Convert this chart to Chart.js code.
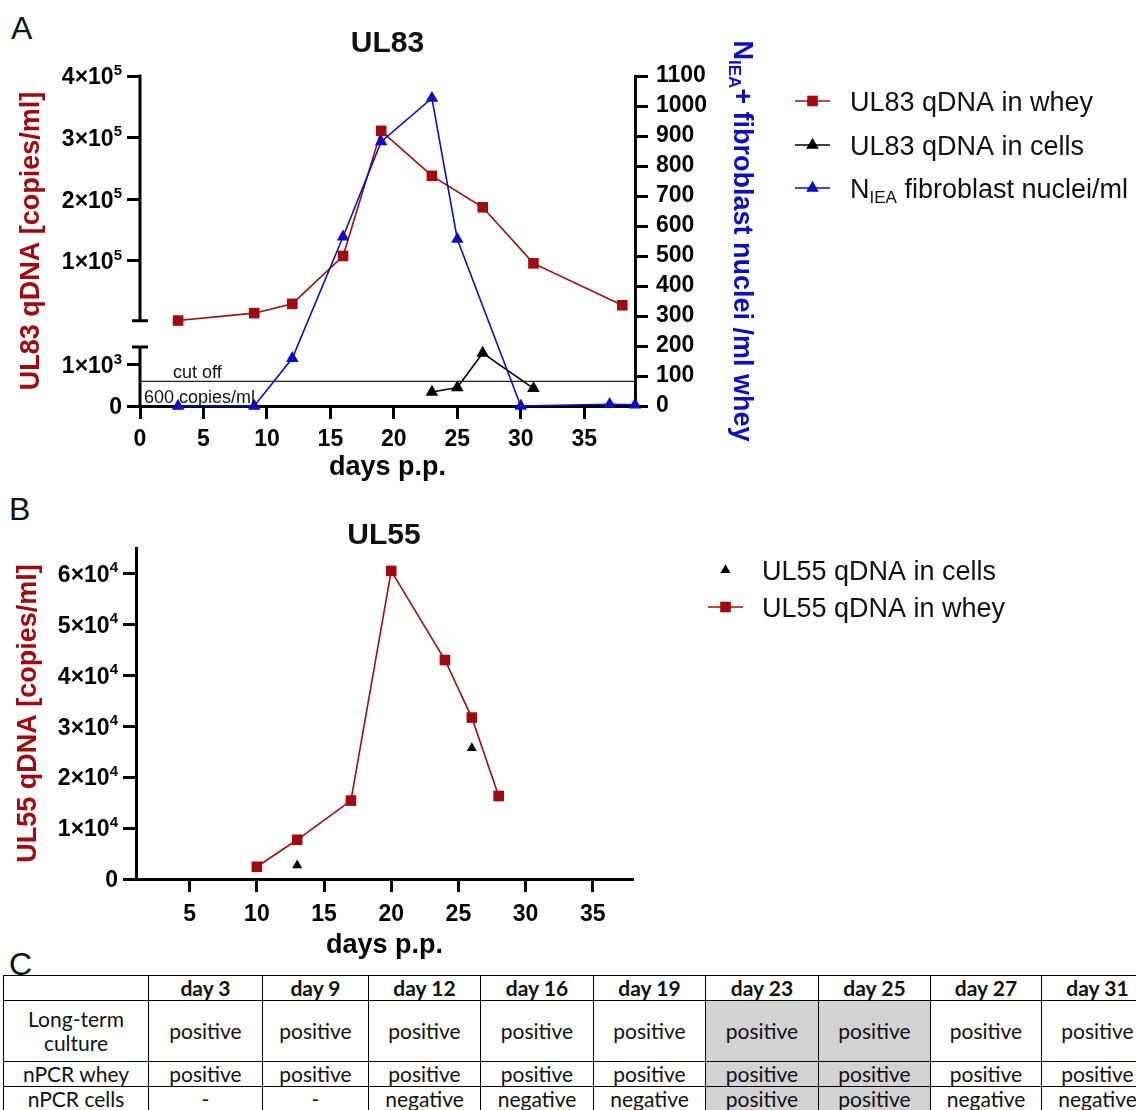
<!DOCTYPE html>
<html>
<head>
<meta charset="utf-8">
<script src="https://cdn.jsdelivr.net/npm/chart.js@4/dist/chart.umd.min.js"></script>
<style>
  html, body { margin: 0; padding: 0; background: #fff; }
  body { width: 1136px; height: 1110px; overflow: hidden; position: relative; }
  canvas { position: absolute; left: 0; }
  #chartA { top: 0; }
  #chartB { top: 490px; }
  .panel { position: absolute; font-family: "Liberation Sans", Arial, sans-serif; font-size: 32px; line-height: 32px; color: #111; }
  #tableC { position: absolute; left: 3px; top: 975px; border-collapse: collapse; table-layout: fixed;
            font-family: Lato, "Open Sans", sans-serif; font-size: 21px; color: #111; }
  #tableC td, #tableC th { border: 1.5px solid #000; text-align: center; padding: 0; line-height: 24px; }
  #tableC th { font-weight: bold; }
  #tableC td.hl { background: #d3d3d3; }
</style>
</head>
<body>
<div class="panel" style="left:11px;top:12px">A</div>
<div class="panel" style="left:9px;top:493px">B</div>
<div class="panel" style="left:9px;top:948px">C</div>
<canvas id="chartA" width="1136" height="490"></canvas>
<canvas id="chartB" width="1136" height="480"></canvas>
<table id="tableC"></table>

<script>
// ---------- UL83 (panel A) ----------
const ul83WheyDays = [3, 9, 12, 16, 19, 23, 27, 31, 38];
const ul83Whey     = [3200, 15200, 30300, 108000, 311000, 238000, 187000, 96000, 28000];
const ul83CellDays = [23, 25, 27, 31];
const ul83Cells    = [340, 450, 1290, 430];
const nieaDays     = [3, 9, 12, 16, 19, 23, 25, 30, 37, 39];
const nieaNuclei   = [0, 0, 159, 564, 881, 1026, 556, 0, 6, 4];
const cutOffDays   = [0, 39];
const cutOffValue  = 600;

// ---------- UL55 (panel B) ----------
const ul55WheyDays = [10, 13, 17, 20, 24, 26, 28];
const ul55Whey     = [2400, 7700, 15400, 60500, 43000, 31700, 16300];
const ul55CellDays = [13, 26];
const ul55Cells    = [2700, 25700];

// ---------- ticks ("^" marks an exponent) ----------
const dayTicksA      = [0, 5, 10, 15, 20, 25, 30, 35];
const dayTicksB      = [5, 10, 15, 20, 25, 30, 35];
const ul83Ticks      = [0, 1000, 100000, 200000, 300000, 400000];
const ul83TickLabels = ['0', '1×10^3', '1×10^5', '2×10^5', '3×10^5', '4×10^5'];
const nieaTicks      = [0, 100, 200, 300, 400, 500, 600, 700, 800, 900, 1000, 1100];
const ul55Ticks      = [0, 10000, 20000, 30000, 40000, 50000, 60000];
const ul55TickLabels = ['0', '1×10^4', '2×10^4', '3×10^4', '4×10^4', '5×10^4', '6×10^4'];

// ---------- table (panel C) ----------
const tableDays    = ['day 3', 'day 9', 'day 12', 'day 16', 'day 19', 'day 23', 'day 25', 'day 27', 'day 31'];
const rowLabels    = ['Long-term culture', 'nPCR whey', 'nPCR cells'];
const longTermRow  = ['positive', 'positive', 'positive', 'positive', 'positive', 'positive', 'positive', 'positive', 'positive'];
const nPCRWheyRow  = ['positive', 'positive', 'positive', 'positive', 'positive', 'positive', 'positive', 'positive', 'positive'];
const nPCRCellsRow = ['-', '-', 'negative', 'negative', 'negative', 'positive', 'positive', 'negative', 'negative'];
const shadedDays   = ['day 23', 'day 25'];

// left UL83 axis is split into a low segment (0..lowMax) and a high segment (highMin..max)
const ul83Break = { lowMax: 1440, highMin: 2700, lowFrac: 0.179, gapFrac: 0.079 };

const FONT = '"Liberation Sans", Arial, Helvetica, sans-serif';
const RED = '#a00b10';
const BLUE = '#0e0ec2';
const BLACK = '#000000';
const TICK_SIZE = 23;
const TICK_LEN = 13;

const pts = (xs, ys) => xs.map((x, i) => ({ x: x, y: ys[i] }));
const fixWidth = w => s => { s.width = w; };
const fixHeight = h => s => { s.height = h; };
const setTicks = list => s => { s.ticks = list.map(v => ({ value: v })); };

// linear scale with a broken (two-segment) value range
class BrokenLinearScale extends Chart.LinearScale {
  static id = 'brokenLinear';
  static defaults = {};
  _segments() {
    const b = this.options.brk;
    const h = this.bottom - this.top;
    const lowH = h * b.lowFrac, gapH = h * b.gapFrac;
    return { b: b, lowH: lowH, gapH: gapH, highH: h - lowH - gapH };
  }
  getPixelForValue(value) {
    if (value === null || value === undefined || isNaN(value)) return NaN;
    const s = this._segments();
    if (value <= s.b.lowMax) return this.bottom - (value - this.min) / (s.b.lowMax - this.min) * s.lowH;
    return this.bottom - s.lowH - s.gapH - (value - s.b.highMin) / (this.max - s.b.highMin) * s.highH;
  }
  getValueForPixel(pixel) {
    const s = this._segments();
    const d = this.bottom - pixel;
    if (d <= s.lowH) return this.min + d / s.lowH * (s.b.lowMax - this.min);
    return s.b.highMin + (d - s.lowH - s.gapH) / s.highH * (this.max - s.b.highMin);
  }
}
Chart.register(BrokenLinearScale);

// marker drawing for the legends (same geometry as Chart.js point styles)
function drawMarker(ctx, style, r, x, y, color) {
  ctx.fillStyle = color;
  ctx.beginPath();
  if (style === 'rect') {
    const s = Math.SQRT1_2 * r;
    ctx.rect(x - s, y - s, 2 * s, 2 * s);
  } else {
    let a = 0;
    ctx.moveTo(x + Math.sin(a) * r, y - Math.cos(a) * r);
    a += 2 * Math.PI / 3;
    ctx.lineTo(x + Math.sin(a) * r, y - Math.cos(a) * r);
    a += 2 * Math.PI / 3;
    ctx.lineTo(x + Math.sin(a) * r, y - Math.cos(a) * r);
    ctx.closePath();
  }
  ctx.fill();
}

// text made of parts, some of them subscripts or superscripts: [{t, sub, sup}]
function drawRich(ctx, parts, x, y, size, bold, color, align) {
  const weight = bold ? 'bold ' : '';
  const small = p => p.sub || p.sup;
  const fontFor = p => weight + (small(p) ? Math.round(size * (p.sup ? 0.66 : 0.62)) : size) + 'px ' + FONT;
  let total = 0;
  const widths = parts.map(p => {
    ctx.font = fontFor(p);
    const w = ctx.measureText(p.t).width;
    total += w;
    return w;
  });
  let cx = align === 'center' ? x - total / 2 : (align === 'right' ? x - total : x);
  ctx.fillStyle = color;
  ctx.textAlign = 'left';
  ctx.textBaseline = 'alphabetic';
  parts.forEach((p, i) => {
    ctx.font = fontFor(p);
    const dy = p.sub ? size * 0.2 : (p.sup ? -size * 0.42 : 0);
    ctx.fillText(p.t, cx, y + dy);
    cx += widths[i];
  });
}

// "1×10^5" -> base text with raised exponent
function labelParts(label) {
  const k = label.indexOf('^');
  return k < 0 ? [{ t: label }] : [{ t: label.slice(0, k) }, { t: label.slice(k + 1), sup: true }];
}

function drawYTickLabels(ctx, scale, values, labels) {
  const xr = scale.right - TICK_LEN - 5;
  values.forEach((v, i) => {
    const y = scale.getPixelForValue(v);
    drawRich(ctx, labelParts(labels[i]), xr, y + TICK_SIZE * 0.36, TICK_SIZE, true, BLACK, 'right');
  });
}

function drawLegend(ctx, items, x0, x1, textX, size) {
  items.forEach(it => {
    const ds = it.ds;
    if (it.line) {
      ctx.strokeStyle = ds.borderColor;
      ctx.lineWidth = ds.borderWidth;
      ctx.beginPath();
      ctx.moveTo(x0, it.y);
      ctx.lineTo(x1, it.y);
      ctx.stroke();
    }
    drawMarker(ctx, ds.pointStyle, ds.pointRadius, (x0 + x1) / 2, it.y, ds.backgroundColor);
    drawRich(ctx, it.parts, textX, it.y + size * 0.36, size, false, '#111', 'left');
  });
}

const tickFont = { family: FONT, size: TICK_SIZE, weight: 'bold' };
const titleFont = { family: FONT, size: 27, weight: 'bold' };
const axisGrid = { drawOnChartArea: false, tickLength: TICK_LEN, tickWidth: 3, tickColor: BLACK };
const axisBorder = { width: 3, color: BLACK };

// ---------- panel A ----------
const decorA = {
  id: 'decorA',
  afterDraw(chart) {
    const ctx = chart.ctx;
    const yL = chart.scales.yL, x = chart.scales.x;
    ctx.save();

    // broken left axis line with end caps at the break
    const ax = yL.right;
    const yTop = yL.getPixelForValue(yL.max);
    const yHighLow = yL.getPixelForValue(ul83Break.highMin);
    const yLowTop = yL.getPixelForValue(ul83Break.lowMax);
    const yZero = yL.getPixelForValue(0);
    ctx.strokeStyle = BLACK;
    ctx.lineWidth = 3;
    ctx.beginPath();
    ctx.moveTo(ax, yTop - 1.5); ctx.lineTo(ax, yHighLow);
    ctx.moveTo(ax, yLowTop); ctx.lineTo(ax, yZero + 1.5);
    ctx.moveTo(ax - 8, yHighLow); ctx.lineTo(ax + 8, yHighLow);
    ctx.moveTo(ax - 8, yLowTop); ctx.lineTo(ax + 8, yLowTop);
    ctx.stroke();

    drawYTickLabels(ctx, yL, ul83Ticks, ul83TickLabels);

    // cut-off annotation
    const yc = yL.getPixelForValue(cutOffValue);
    ctx.fillStyle = '#111';
    ctx.font = '18px ' + FONT;
    ctx.textAlign = 'left';
    ctx.textBaseline = 'alphabetic';
    ctx.fillText('cut off', x.getPixelForValue(0) + 33, yc - 3);
    ctx.fillText('600 copies/ml', x.getPixelForValue(0) + 4, yc + 22);

    // chart title
    ctx.font = 'bold 30px ' + FONT;
    ctx.textAlign = 'center';
    ctx.textBaseline = 'middle';
    ctx.fillText('UL83', (chart.chartArea.left + chart.chartArea.right) / 2, 44);

    // right axis title (rotated, with subscript)
    ctx.save();
    ctx.translate(734, (chart.chartArea.top + chart.chartArea.bottom) / 2);
    ctx.rotate(Math.PI / 2);
    drawRich(ctx, [{ t: 'N' }, { t: 'IEA', sub: true }, { t: '+ fibroblast nuclei /ml whey' }], 0, 0, 27, true, BLUE, 'center');
    ctx.restore();

    // legend
    const ds = chart.data.datasets;
    drawLegend(ctx, [
      { ds: ds[0], y: 101, line: true, parts: [{ t: 'UL83 qDNA in whey' }] },
      { ds: ds[1], y: 145, line: true, parts: [{ t: 'UL83 qDNA in cells' }] },
      { ds: ds[2], y: 188, line: true, parts: [{ t: 'N' }, { t: 'IEA', sub: true }, { t: ' fibroblast nuclei/ml' }] }
    ], 795, 830, 850, 27);
    ctx.restore();
  }
};

new Chart(document.getElementById('chartA'), {
  type: 'line',
  data: {
    datasets: [
      { label: 'UL83 qDNA in whey', data: pts(ul83WheyDays, ul83Whey), yAxisID: 'yL', order: 2,
        borderColor: RED, backgroundColor: RED, borderWidth: 1.6, pointStyle: 'rect', pointRadius: 7.5, pointBorderWidth: 0, clip: false },
      { label: 'UL83 qDNA in cells', data: pts(ul83CellDays, ul83Cells), yAxisID: 'yL', order: 0,
        borderColor: BLACK, backgroundColor: BLACK, borderWidth: 1.6, pointStyle: 'triangle', pointRadius: 7.3, pointBorderWidth: 0, clip: false },
      { label: 'NIEA fibroblast nuclei/ml', data: pts(nieaDays, nieaNuclei), yAxisID: 'yR', order: 1,
        borderColor: BLUE, backgroundColor: BLUE, borderWidth: 1.6, pointStyle: 'triangle', pointRadius: 7.3, pointBorderWidth: 0, clip: false },
      { label: 'cut off', data: pts(cutOffDays, [cutOffValue, cutOffValue]), yAxisID: 'yL', order: 3,
        borderColor: '#222', borderWidth: 1.2, pointRadius: 0, clip: false }
    ]
  },
  options: {
    responsive: false, animation: false, devicePixelRatio: 1,
    layout: { padding: { top: 76, left: 0, right: 0, bottom: 0 } },
    elements: { line: { tension: 0 } },
    plugins: { legend: { display: false }, tooltip: { enabled: false } },
    scales: {
      x: {
        type: 'linear', position: 'bottom', min: 0, max: 39,
        afterFit: fixHeight(84), afterBuildTicks: setTicks(dayTicksA),
        grid: axisGrid, border: axisBorder,
        ticks: { font: tickFont, color: BLACK, padding: 7, maxRotation: 0, autoSkip: false },
        title: { display: true, text: 'days p.p.', font: titleFont, color: BLACK, padding: { top: 0, bottom: 6 } }
      },
      yL: {
        type: 'brokenLinear', position: 'left', min: 0, max: 400000, brk: ul83Break,
        afterFit: fixWidth(140), afterBuildTicks: setTicks(ul83Ticks),
        grid: axisGrid, border: { display: false },
        ticks: { display: false },
        title: { display: true, text: 'UL83 qDNA [copies/ml]', font: titleFont, color: RED, padding: { top: 15, bottom: 0 } }
      },
      yR: {
        type: 'linear', position: 'right', min: 0, max: 1100,
        afterFit: fixWidth(501), afterBuildTicks: setTicks(nieaTicks),
        grid: axisGrid, border: axisBorder,
        ticks: { font: tickFont, color: BLACK, padding: 8, autoSkip: false, callback: v => String(v) }
      }
    }
  },
  plugins: [decorA]
});

// ---------- panel B ----------
const decorB = {
  id: 'decorB',
  afterDraw(chart) {
    const ctx = chart.ctx;
    ctx.save();
    drawYTickLabels(ctx, chart.scales.y, ul55Ticks, ul55TickLabels);
    ctx.fillStyle = '#111';
    ctx.font = 'bold 30px ' + FONT;
    ctx.textAlign = 'center';
    ctx.textBaseline = 'middle';
    ctx.fillText('UL55', 384, 46);
    const ds = chart.data.datasets;
    drawLegend(ctx, [
      { ds: ds[1], y: 80, line: false, parts: [{ t: 'UL55 qDNA in cells' }] },
      { ds: ds[0], y: 117, line: true, parts: [{ t: 'UL55 qDNA in whey' }] }
    ], 708, 743, 762, 27);
    ctx.restore();
  }
};

new Chart(document.getElementById('chartB'), {
  type: 'line',
  data: {
    datasets: [
      { label: 'UL55 qDNA in whey', data: pts(ul55WheyDays, ul55Whey), order: 1,
        borderColor: RED, backgroundColor: RED, borderWidth: 1.6, pointStyle: 'rect', pointRadius: 7.5, pointBorderWidth: 0, clip: false },
      { label: 'UL55 qDNA in cells', data: pts(ul55CellDays, ul55Cells), order: 0, showLine: false,
        borderColor: BLACK, backgroundColor: BLACK, borderWidth: 1.6, pointStyle: 'triangle', pointRadius: 5.8, pointBorderWidth: 0, clip: false }
    ]
  },
  options: {
    responsive: false, animation: false, devicePixelRatio: 1,
    layout: { padding: { top: 58, left: 0, right: 503, bottom: 0 } },
    elements: { line: { tension: 0 } },
    plugins: { legend: { display: false }, tooltip: { enabled: false } },
    scales: {
      x: {
        type: 'linear', position: 'bottom', min: 1, max: 38,
        afterFit: fixHeight(91), afterBuildTicks: setTicks(dayTicksB),
        grid: axisGrid, border: axisBorder,
        ticks: { font: tickFont, color: BLACK, padding: 9, maxRotation: 0, autoSkip: false },
        title: { display: true, text: 'days p.p.', font: titleFont, color: BLACK, padding: { top: 0, bottom: 8 } }
      },
      y: {
        type: 'linear', position: 'left', min: 0, max: 65000,
        afterFit: fixWidth(136), afterBuildTicks: setTicks(ul55Ticks),
        grid: axisGrid, border: axisBorder,
        ticks: { display: false },
        title: { display: true, text: 'UL55 qDNA [copies/ml]', font: titleFont, color: RED, padding: { top: 12, bottom: 0 } }
      }
    }
  },
  plugins: [decorB]
});

// ---------- panel C table ----------
(function buildTable() {
  const colWidths = [145, 114, 106, 112, 113, 112, 113, 112, 111, 112];
  const rowHeights = [25, 61, 25, 25];
  const table = document.getElementById('tableC');
  const cg = document.createElement('colgroup');
  colWidths.forEach(w => { const c = document.createElement('col'); c.style.width = w + 'px'; cg.appendChild(c); });
  table.appendChild(cg);
  table.style.width = colWidths.reduce((a, b) => a + b, 0) + 'px';

  const head = document.createElement('tr');
  head.style.height = rowHeights[0] + 'px';
  head.appendChild(document.createElement('th'));
  tableDays.forEach(d => { const th = document.createElement('th'); th.textContent = d; head.appendChild(th); });
  table.appendChild(head);

  [longTermRow, nPCRWheyRow, nPCRCellsRow].forEach((row, r) => {
    const tr = document.createElement('tr');
    tr.style.height = rowHeights[r + 1] + 'px';
    const lab = document.createElement('td');
    lab.textContent = rowLabels[r];
    tr.appendChild(lab);
    row.forEach((v, i) => {
      const td = document.createElement('td');
      td.textContent = v;
      if (shadedDays.includes(tableDays[i])) td.className = 'hl';
      tr.appendChild(td);
    });
    table.appendChild(tr);
  });
})();
</script>
</body>
</html>
